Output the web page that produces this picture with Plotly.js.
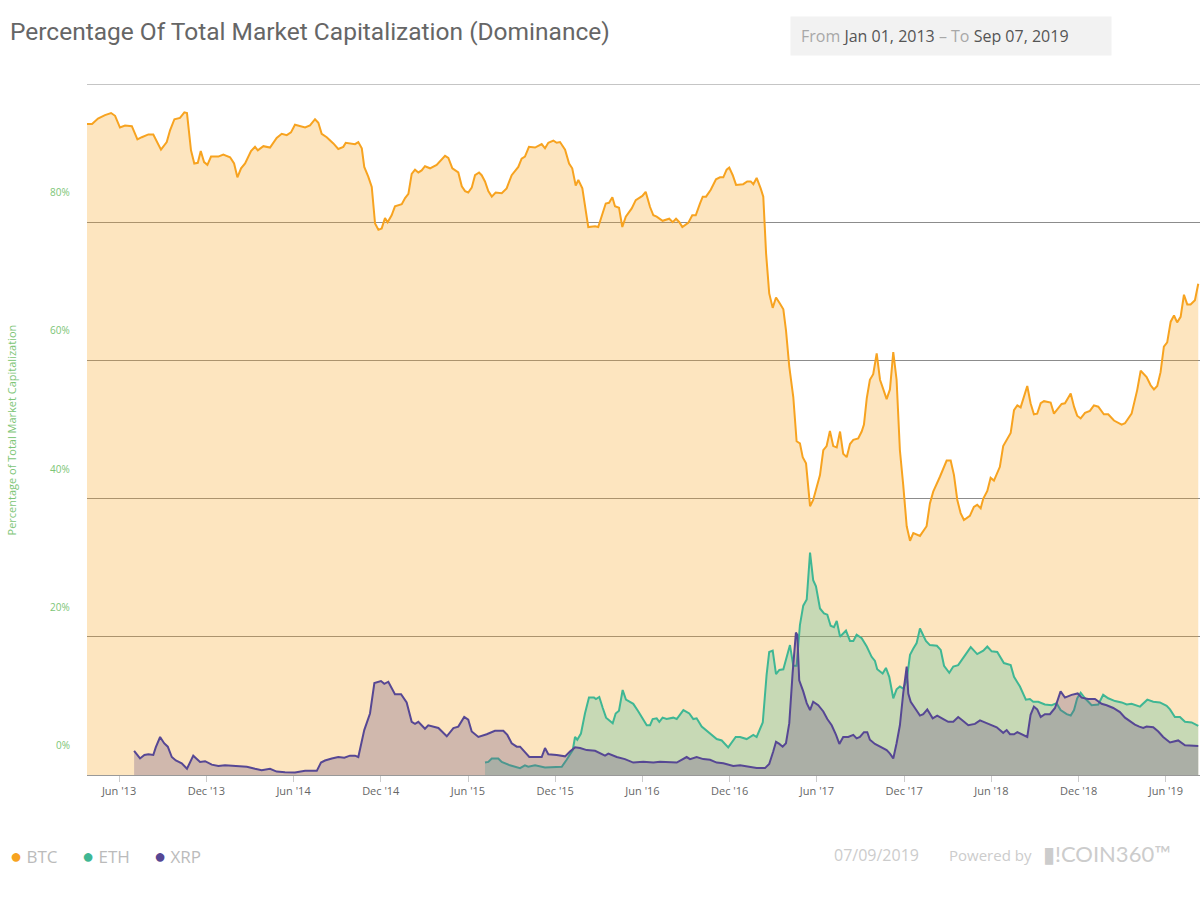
<!DOCTYPE html>
<html>
<head>
<meta charset="utf-8">
<script src="https://cdn.plot.ly/plotly-3.0.1.min.js"></script>
<style>
  html, body { margin: 0; padding: 0; background: #fff; }
  #dominance { width: 1200px; height: 900px; }
</style>
</head>
<body>
<div id="dominance"></div>
<script>
// dates are decimal years, values are % of total market cap
const btcDates = [
  2013.233, 2013.262, 2013.296, 2013.336, 2013.371, 2013.394, 2013.422, 2013.451, 2013.490, 2013.522,
  2013.547, 2013.585, 2013.613, 2013.642, 2013.657, 2013.690, 2013.709, 2013.734, 2013.766, 2013.791,
  2013.806, 2013.829, 2013.848, 2013.868, 2013.885, 2013.904, 2013.923, 2013.944, 2013.986, 2014.014,
  2014.053, 2014.076, 2014.095, 2014.116, 2014.139, 2014.173, 2014.196, 2014.212, 2014.244, 2014.282,
  2014.320, 2014.349, 2014.378, 2014.402, 2014.425, 2014.483, 2014.511, 2014.540, 2014.559, 2014.578,
  2014.607, 2014.645, 2014.673, 2014.702, 2014.716, 2014.769, 2014.788, 2014.808, 2014.822, 2014.845,
  2014.865, 2014.884, 2014.903, 2014.922, 2014.941, 2014.956, 2014.979, 2014.998, 2015.037, 2015.056,
  2015.075, 2015.094, 2015.113, 2015.132, 2015.151, 2015.170, 2015.199, 2015.237, 2015.285, 2015.304,
  2015.327, 2015.361, 2015.381, 2015.400, 2015.418, 2015.438, 2015.457, 2015.480, 2015.495, 2015.514,
  2015.533, 2015.553, 2015.575, 2015.610, 2015.638, 2015.667, 2015.705, 2015.724, 2015.743, 2015.766,
  2015.801, 2015.839, 2015.858, 2015.877, 2015.906, 2015.925, 2015.944, 2015.973, 2015.996, 2016.014,
  2016.034, 2016.049, 2016.072, 2016.106, 2016.145, 2016.163, 2016.186, 2016.206, 2016.225, 2016.244,
  2016.259, 2016.282, 2016.301, 2016.321, 2016.355, 2016.378, 2016.416, 2016.435, 2016.460, 2016.479,
  2016.498, 2016.532, 2016.570, 2016.590, 2016.609, 2016.628, 2016.645, 2016.679, 2016.702, 2016.722,
  2016.746, 2016.762, 2016.781, 2016.808, 2016.838, 2016.861, 2016.880, 2016.899, 2016.914, 2016.934,
  2016.953, 2016.976, 2016.994, 2017.017, 2017.037, 2017.052, 2017.071, 2017.094, 2017.109, 2017.125,
  2017.143, 2017.163, 2017.182, 2017.205, 2017.224, 2017.239, 2017.258, 2017.281, 2017.300, 2017.319,
  2017.335, 2017.354, 2017.377, 2017.395, 2017.415, 2017.434, 2017.453, 2017.472, 2017.491, 2017.510,
  2017.530, 2017.549, 2017.567, 2017.587, 2017.606, 2017.625, 2017.653, 2017.673, 2017.686, 2017.702,
  2017.720, 2017.739, 2017.759, 2017.778, 2017.797, 2017.816, 2017.835, 2017.854, 2017.873, 2017.892,
  2017.911, 2017.931, 2017.950, 2017.969, 2018.007, 2018.045, 2018.064, 2018.083, 2018.122, 2018.160,
  2018.183, 2018.202, 2018.221, 2018.240, 2018.259, 2018.293, 2018.316, 2018.335, 2018.355, 2018.370,
  2018.393, 2018.412, 2018.431, 2018.465, 2018.484, 2018.507, 2018.527, 2018.546, 2018.565, 2018.584,
  2018.622, 2018.641, 2018.660, 2018.679, 2018.699, 2018.718, 2018.756, 2018.775, 2018.800, 2018.819,
  2018.838, 2018.853, 2018.871, 2018.890, 2018.908, 2018.928, 2018.953, 2018.981, 2019.004, 2019.029,
  2019.061, 2019.086, 2019.119, 2019.163, 2019.182, 2019.220, 2019.252, 2019.272, 2019.306, 2019.329,
  2019.348, 2019.367, 2019.386, 2019.405, 2019.424, 2019.444, 2019.463, 2019.481, 2019.501, 2019.520,
  2019.539, 2019.558, 2019.583, 2019.602
];
const btcValues = [
  94.2, 94.2, 95.0, 95.5, 95.8, 95.4, 93.7, 94.0, 93.9, 92.0,
  92.3, 92.7, 92.7, 91.2, 90.5, 91.6, 93.3, 94.9, 95.1, 95.9,
  95.8, 90.4, 88.5, 88.6, 90.3, 88.7, 88.3, 89.5, 89.5, 89.8,
  89.4, 88.5, 86.5, 87.8, 88.5, 90.3, 90.9, 90.4, 91.0, 90.8,
  92.2, 92.8, 92.6, 93.0, 94.1, 93.7, 94.0, 94.9, 94.4, 92.8,
  92.3, 91.4, 90.6, 90.9, 91.5, 91.3, 91.6, 90.7, 88.0, 86.6,
  85.1, 79.8, 78.9, 79.1, 80.6, 80.0, 81.0, 82.3, 82.6, 83.5,
  84.1, 87.0, 87.6, 87.2, 87.5, 88.1, 87.8, 88.3, 89.6, 89.3,
  87.8, 87.2, 85.2, 84.5, 84.3, 85.0, 86.8, 87.2, 86.8, 85.9,
  84.5, 83.7, 84.3, 84.2, 84.9, 86.8, 88.0, 89.2, 89.5, 90.9,
  90.8, 91.3, 90.7, 91.5, 91.8, 91.5, 91.6, 90.5, 88.5, 87.8,
  85.3, 86.1, 84.9, 79.3, 79.4, 79.3, 81.0, 82.7, 82.8, 83.6,
  82.3, 82.1, 79.3, 80.8, 82.0, 83.2, 83.8, 84.4, 82.2, 81.0,
  80.8, 80.2, 80.5, 80.0, 80.5, 80.0, 79.3, 79.9, 81.0, 81.0,
  82.7, 83.7, 83.7, 84.7, 86.2, 86.5, 86.5, 87.6, 87.9, 86.8,
  85.4, 85.5, 85.5, 85.9, 85.9, 85.5, 86.4, 84.9, 83.7, 75.5,
  69.7, 67.6, 69.1, 68.2, 67.4, 64.4, 59.1, 54.7, 48.3, 48.0,
  46.0, 45.1, 38.9, 39.8, 41.6, 43.4, 47.0, 47.6, 49.8, 47.6,
  47.4, 49.7, 46.5, 46.0, 47.9, 48.5, 48.7, 49.7, 50.7, 54.5,
  57.2, 58.0, 61.0, 57.2, 55.8, 54.4, 55.8, 61.2, 57.2, 47.0,
  42.0, 36.0, 33.9, 35.0, 34.6, 36.0, 39.3, 41.0, 43.2, 45.5,
  45.5, 43.4, 39.8, 37.9, 36.9, 37.5, 38.8, 39.1, 38.6, 40.0,
  41.1, 43.0, 42.6, 44.6, 47.6, 48.6, 49.5, 52.8, 53.5, 53.2,
  56.3, 53.8, 52.2, 52.3, 53.8, 54.1, 53.9, 52.3, 53.1, 53.7,
  53.8, 54.5, 55.2, 53.3, 52.0, 51.6, 52.4, 52.7, 53.5, 53.3,
  52.2, 52.2, 51.3, 50.7, 50.9, 52.3, 55.7, 58.5, 57.6, 56.4,
  55.8, 56.3, 58.3, 62.0, 62.6, 65.6, 66.5, 65.5, 66.3, 69.5,
  68.1, 68.1, 68.7, 71.1
];

const ethDates = [
  2015.514, 2015.533, 2015.553, 2015.590, 2015.610, 2015.657, 2015.715, 2015.743, 2015.762, 2015.801,
  2015.858, 2015.925, 2015.954, 2015.982, 2016.001, 2016.017, 2016.030, 2016.043, 2016.064, 2016.087,
  2016.110, 2016.139, 2016.150, 2016.169, 2016.189, 2016.208, 2016.246, 2016.263, 2016.282, 2016.303,
  2016.322, 2016.345, 2016.364, 2016.393, 2016.421, 2016.441, 2016.460, 2016.475, 2016.498, 2016.513,
  2016.532, 2016.555, 2016.593, 2016.613, 2016.651, 2016.685, 2016.708, 2016.727, 2016.756, 2016.804,
  2016.842, 2016.871, 2016.908, 2016.951, 2016.976, 2017.014, 2017.052, 2017.071, 2017.106, 2017.128,
  2017.143, 2017.163, 2017.182, 2017.201, 2017.224, 2017.262, 2017.281, 2017.300, 2017.319, 2017.338,
  2017.358, 2017.377, 2017.395, 2017.411, 2017.434, 2017.457, 2017.476, 2017.495, 2017.514, 2017.530,
  2017.549, 2017.583, 2017.606, 2017.625, 2017.644, 2017.673, 2017.702, 2017.730, 2017.749, 2017.762,
  2017.793, 2017.812, 2017.831, 2017.854, 2017.873, 2017.892, 2017.911, 2017.931, 2017.950, 2017.969,
  2017.988, 2018.007, 2018.026, 2018.041, 2018.064, 2018.104, 2018.126, 2018.145, 2018.175, 2018.198,
  2018.226, 2018.255, 2018.298, 2018.335, 2018.370, 2018.393, 2018.418, 2018.450, 2018.488, 2018.527,
  2018.546, 2018.580, 2018.614, 2018.637, 2018.656, 2018.685, 2018.723, 2018.762, 2018.790, 2018.813,
  2018.848, 2018.871, 2018.890, 2018.908, 2018.928, 2018.953, 2018.991, 2019.029, 2019.057, 2019.086,
  2019.125, 2019.163, 2019.192, 2019.220, 2019.268, 2019.310, 2019.344, 2019.382, 2019.421, 2019.440,
  2019.468, 2019.497, 2019.526, 2019.564, 2019.602
];
const ethValues = [
  1.8, 1.9, 2.4, 2.4, 1.9, 1.4, 1.0, 1.4, 1.2, 1.4,
  1.1, 1.1, 1.2, 2.2, 2.9, 3.6, 5.5, 5.1, 6.0, 8.9,
  11.2, 11.2, 11.0, 11.3, 9.7, 8.3, 7.5, 8.9, 9.3, 12.3,
  10.9, 10.6, 10.3, 9.2, 8.0, 7.2, 7.2, 8.1, 8.2, 7.7,
  8.3, 8.1, 8.3, 8.1, 9.4, 8.9, 8.1, 8.2, 7.0, 6.0,
  5.2, 5.0, 4.0, 5.5, 5.5, 5.2, 5.8, 5.5, 7.6, 14.5,
  17.8, 18.0, 14.6, 15.2, 15.3, 18.8, 15.8, 15.8, 21.7, 24.5,
  25.4, 32.2, 28.2, 27.3, 24.1, 23.4, 23.2, 21.6, 21.4, 22.3,
  20.0, 20.9, 19.4, 19.4, 20.3, 19.8, 18.6, 17.1, 16.5, 15.3,
  14.7, 15.5, 14.2, 11.1, 12.4, 12.8, 12.5, 13.7, 17.4, 18.3,
  19.1, 21.2, 20.3, 19.4, 18.8, 18.7, 18.1, 15.8, 14.8, 15.7,
  15.9, 16.9, 18.5, 17.5, 18.0, 18.6, 17.9, 17.8, 16.2, 15.9,
  14.2, 12.8, 10.9, 11.0, 10.6, 10.6, 10.2, 10.1, 10.4, 9.4,
  8.8, 8.6, 9.4, 11.1, 11.9, 11.1, 10.1, 10.2, 11.6, 11.1,
  10.7, 10.5, 10.2, 10.3, 9.9, 10.9, 10.6, 10.5, 10.0, 9.5,
  8.4, 8.4, 7.7, 7.6, 7.1
];

const xrpDates = [
  2013.503, 2013.537, 2013.562, 2013.585, 2013.613, 2013.627, 2013.652, 2013.675, 2013.696, 2013.719,
  2013.742, 2013.776, 2013.806, 2013.842, 2013.881, 2013.910, 2013.948, 2013.986, 2014.024, 2014.100,
  2014.149, 2014.196, 2014.234, 2014.282, 2014.320, 2014.368, 2014.425, 2014.483, 2014.550, 2014.574,
  2014.597, 2014.636, 2014.673, 2014.708, 2014.740, 2014.769, 2014.788, 2014.822, 2014.855, 2014.880,
  2014.918, 2014.937, 2014.960, 2014.998, 2015.033, 2015.065, 2015.094, 2015.113, 2015.132, 2015.170,
  2015.189, 2015.247, 2015.295, 2015.333, 2015.361, 2015.395, 2015.418, 2015.438, 2015.476, 2015.524,
  2015.571, 2015.619, 2015.642, 2015.667, 2015.696, 2015.715, 2015.738, 2015.768, 2015.810, 2015.839,
  2015.858, 2015.877, 2015.925, 2015.973, 2016.001, 2016.030, 2016.059, 2016.097, 2016.145, 2016.173,
  2016.202, 2016.221, 2016.269, 2016.316, 2016.364, 2016.421, 2016.479, 2016.517, 2016.574, 2016.613,
  2016.670, 2016.689, 2016.727, 2016.765, 2016.804, 2016.842, 2016.880, 2016.937, 2016.976, 2017.033,
  2017.071, 2017.119, 2017.143, 2017.166, 2017.182, 2017.201, 2017.220, 2017.239, 2017.258, 2017.277,
  2017.296, 2017.304, 2017.315, 2017.338, 2017.358, 2017.377, 2017.395, 2017.424, 2017.453, 2017.476,
  2017.501, 2017.526, 2017.545, 2017.567, 2017.596, 2017.625, 2017.644, 2017.663, 2017.686, 2017.705,
  2017.720, 2017.749, 2017.778, 2017.816, 2017.835, 2017.854, 2017.873, 2017.892, 2017.911, 2017.931,
  2017.940, 2017.954, 2017.978, 2018.007, 2018.026, 2018.049, 2018.080, 2018.106, 2018.141, 2018.169,
  2018.198, 2018.226, 2018.246, 2018.284, 2018.322, 2018.351, 2018.389, 2018.447, 2018.484, 2018.504,
  2018.523, 2018.546, 2018.565, 2018.599, 2018.622, 2018.641, 2018.660, 2018.679, 2018.699, 2018.723,
  2018.752, 2018.781, 2018.813, 2018.838, 2018.876, 2018.911, 2018.934, 2018.971, 2019.010, 2019.048,
  2019.077, 2019.115, 2019.153, 2019.182, 2019.214, 2019.239, 2019.264, 2019.287, 2019.306, 2019.344,
  2019.373, 2019.401, 2019.440, 2019.487, 2019.526, 2019.573, 2019.602
];
const xrpValues = [
  3.5, 2.4, 2.9, 3.0, 2.9, 4.0, 5.5, 4.6, 4.1, 2.6,
  2.1, 1.7, 0.9, 2.8, 1.9, 2.0, 1.5, 1.3, 1.4, 1.3,
  1.2, 0.9, 0.7, 0.9, 0.5, 0.4, 0.35, 0.6, 0.6, 1.8,
  2.1, 2.4, 2.6, 2.5, 2.8, 2.8, 2.6, 6.5, 8.9, 13.3,
  13.6, 13.2, 13.5, 11.7, 11.7, 10.5, 7.7, 7.4, 7.7, 6.7,
  7.2, 6.8, 5.6, 6.8, 7.0, 8.4, 8.0, 6.3, 5.5, 5.9,
  6.4, 6.4, 5.8, 4.6, 4.1, 4.1, 3.4, 2.6, 2.6, 2.6,
  3.9, 3.0, 2.9, 2.7, 3.4, 4.0, 3.9, 3.6, 3.5, 3.2,
  2.8, 3.1, 2.6, 2.3, 1.8, 1.9, 1.8, 1.9, 1.9, 1.8,
  2.6, 2.3, 2.6, 2.3, 2.2, 1.8, 1.7, 1.3, 1.4, 1.2,
  1.0, 1.0, 1.6, 3.4, 4.8, 4.5, 4.1, 4.6, 7.5, 14.7,
  20.6, 20.3, 13.7, 12.1, 10.4, 9.4, 10.6, 10.1, 9.2, 8.1,
  7.2, 5.8, 4.5, 5.5, 5.5, 5.8, 5.3, 5.5, 6.2, 6.2,
  5.1, 4.5, 4.1, 3.6, 3.1, 2.4, 4.6, 7.2, 11.8, 15.7,
  11.8, 10.6, 9.7, 8.6, 8.8, 9.5, 8.2, 8.6, 8.1, 7.7,
  7.7, 8.4, 8.0, 7.2, 7.4, 7.9, 7.5, 6.9, 6.1, 6.5,
  5.9, 5.9, 6.2, 5.8, 5.5, 8.7, 9.9, 9.5, 8.4, 8.8,
  8.8, 9.7, 12.1, 11.2, 11.6, 11.8, 11.2, 11.0, 11.0, 10.3,
  10.1, 9.7, 9.1, 8.3, 7.7, 7.3, 7.0, 6.8, 7.0, 6.9,
  6.3, 5.5, 4.7, 5.0, 4.3, 4.3, 4.2
];

const xTickVals = [2013.4167, 2013.9167, 2014.4167, 2014.9167, 2015.4167, 2015.9167, 2016.4167,
  2016.9167, 2017.4167, 2017.9167, 2018.4167, 2018.9167, 2019.4167];
const xTickText = ["Jun '13", "Dec '13", "Jun '14", "Dec '14", "Jun '15", "Dec '15", "Jun '16",
  "Dec '16", "Jun '17", "Dec '17", "Jun '18", "Dec '18", "Jun '19"];
const yTickVals = [0, 20, 40, 60, 80];

const coins = ['BTC', 'ETH', 'XRP'];
const lineColors = ['#f7a320', '#3fb794', '#564794'];
const fillColors = ['rgba(247,165,35,0.29)', 'rgba(76,189,158,0.3)', 'rgba(106,79,131,0.3)'];

const greenLabel = '#7cc576';
const gridColor = '#8c8c8c';

function areaTrace(name, x, y, i) {
  return {
    type: 'scatter',
    mode: 'lines',
    name: name,
    x: x,
    y: y,
    fill: 'tozeroy',
    fillcolor: fillColors[i],
    line: { color: lineColors[i], width: 2 },
    hoverinfo: 'skip'
  };
}

const data = [
  areaTrace('BTC', btcDates, btcValues, 0),
  areaTrace('ETH', ethDates, ethValues, 1),
  areaTrace('XRP', xrpDates, xrpValues, 2)
];

// plot area: x 87..1200, y 84..775
const annotations = [];

// the % labels sit about 30px above their grid lines
yTickVals.forEach(v => {
  annotations.push({
    xref: 'paper', x: 0, xanchor: 'right', xshift: -15,
    yref: 'y', y: v, yanchor: 'middle', yshift: 30,
    text: v + '%', showarrow: false,
    font: { family: 'Open Sans', size: 10, color: greenLabel }
  });
});

annotations.push({
  xref: 'paper', x: -0.0674, xanchor: 'center',
  yref: 'paper', y: 0.5, yanchor: 'middle',
  textangle: -90, showarrow: false,
  text: 'Percentage of Total Market Capitalization',
  font: { family: 'Open Sans', size: 11, color: greenLabel }
});

// date range box
annotations.push({
  xref: 'paper', x: 0.6316, xanchor: 'left',
  yref: 'paper', y: 1.0695, yanchor: 'middle',
  width: 300, height: 18, borderpad: 10, align: 'left',
  bgcolor: '#f2f2f2', showarrow: false,
  text: "<span style='color:#a8a8a8'>From</span> Jan 01, 2013 <span style='color:#a8a8a8'>– To</span> Sep 07, 2019",
  font: { family: 'Open Sans', size: 16, color: '#555' }
});

// legend
const legendX = [-0.0710, -0.0063, 0.0584];
coins.forEach((c, i) => {
  annotations.push({
    xref: 'paper', x: legendX[i], xanchor: 'left',
    yref: 'paper', y: -0.1158, yanchor: 'middle',
    showarrow: false,
    text: "<span style='color:" + lineColors[i] + ";font-size:20px'>●</span> " + c,
    font: { family: 'Open Sans', size: 17, color: '#bbbbbb' }
  });
});

// footer
annotations.push({
  xref: 'paper', x: 0.7089, xanchor: 'center',
  yref: 'paper', y: -0.1158, yanchor: 'middle', showarrow: false,
  text: '07/09/2019',
  font: { family: 'Open Sans', size: 16, color: '#cccccc' }
});
annotations.push({
  xref: 'paper', x: 0.8122, xanchor: 'center',
  yref: 'paper', y: -0.1158, yanchor: 'middle', showarrow: false,
  text: 'Powered by',
  font: { family: 'Open Sans', size: 15, color: '#cccccc' }
});
annotations.push({
  xref: 'paper', x: 0.9164, xanchor: 'center',
  yref: 'paper', y: -0.1130, yanchor: 'middle', showarrow: false,
  text: '▮!COIN360™',
  font: { family: 'Lato', size: 22, color: '#cccccc' }
});

const layout = {
  width: 1200,
  height: 900,
  margin: { l: 87, r: 0, t: 84, b: 125 },
  paper_bgcolor: '#ffffff',
  plot_bgcolor: '#ffffff',
  showlegend: false,
  title: {
    text: 'Percentage Of Total Market Capitalization (Dominance)',
    xref: 'container', x: 0.0083, xanchor: 'left',
    yref: 'container', y: 0.9656, yanchor: 'middle',
    font: { family: 'Roboto', size: 24.5, color: '#666666' }
  },
  xaxis: {
    type: 'linear',
    range: [2013.233, 2019.612],
    tickvals: xTickVals,
    ticktext: xTickText,
    ticks: 'outside',
    ticklen: 6,
    tickcolor: '#cccccc',
    showgrid: false,
    zeroline: false,
    showline: true,
    linecolor: '#999999',
    linewidth: 1,
    tickfont: { family: 'Open Sans', size: 11, color: '#666666' }
  },
  yaxis: {
    range: [0, 100],
    tickvals: [0, 20, 40, 60, 80, 100],
    showticklabels: false,
    ticks: '',
    showgrid: true,
    gridcolor: gridColor,
    gridwidth: 1,
    zeroline: false
  },
  // top grid line at 100%, which plotly leaves out on the range edge
  shapes: [{
    type: 'line', layer: 'below',
    xref: 'paper', x0: 0, x1: 1,
    yref: 'y', y0: 100, y1: 100,
    line: { color: gridColor, width: 1 }
  }],
  annotations: annotations
};

Plotly.newPlot('dominance', data, layout, { displayModeBar: false, staticPlot: true });
</script>
</body>
</html>
